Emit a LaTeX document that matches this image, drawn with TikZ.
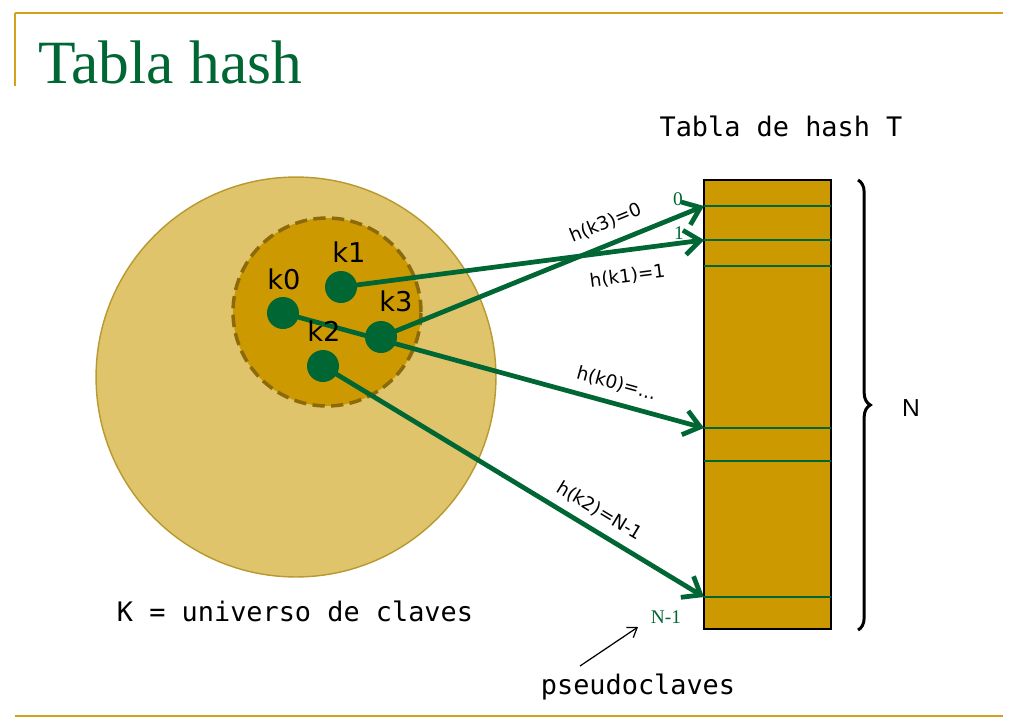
\documentclass[tikz,border=0pt]{standalone}
\usepackage{fontspec}
\setmainfont{Liberation Serif}
\newfontfamily\dvsans{DejaVu Sans}
\newfontfamily\dvmono{DejaVu Sans Mono}
\newfontfamily\lsans{Liberation Sans}
\usetikzlibrary{arrows.meta,decorations.pathreplacing}
\definecolor{gline}{HTML}{D4A21A}
\definecolor{outerfill}{HTML}{E0C46C}
\definecolor{outerdraw}{HTML}{B8982F}
\definecolor{innerfill}{HTML}{CC9900}
\definecolor{innerdraw}{HTML}{8C6A0A}
\definecolor{dgreen}{HTML}{006633}
\tikzset{
  keydot/.style={circle, fill=dgreen, inner sep=0pt, minimum size=0.64cm},
  keylab/.style={font=\dvsans\fontsize{15.5}{18}\selectfont, inner sep=0pt},
  harrow/.style={draw=dgreen, line width=2.7pt, -{Straight Barb[length=9pt,width=14pt,line width=2.7pt]}},
  hlab/.style={font=\dvsans\fontsize{10.5}{12}\selectfont, inner sep=1pt, sloped},
  slotline/.style={draw=dgreen, line width=0.9pt},
  idx/.style={font=\fontsize{11}{13}\selectfont, text=dgreen, inner sep=0pt},
  mono/.style={font=\dvmono\fontsize{15.3}{18}\selectfont, inner sep=0pt},
}
\begin{document}
\begin{tikzpicture}[x=0.02cm,y=-0.02cm]
\useasboundingbox (0,0) rectangle (1020,727);
% frame lines
\draw[gline, line width=1.7pt] (15,13) -- (1003,13);
\draw[gline, line width=1.1pt] (15,13) -- (15,86);
\draw[gline, line width=1.2pt] (15,716) -- (1003,716);
\node[anchor=base west, text=dgreen, font=\fontsize{35}{40}\selectfont, inner sep=0pt] (title) at (38,83) {Tabla hash};
% universe
\node[circle, fill=outerfill, draw=outerdraw, line width=0.8pt, minimum size=8cm, inner sep=0pt] (U) at (296,377) {};
\node[circle, fill=innerfill, draw=innerdraw, line width=2pt, dash pattern=on 7pt off 3.6pt, minimum size=3.76cm, inner sep=0pt] (S) at (327,312) {};
% table
\node[rectangle, draw=black, fill=innerfill, line width=1pt, minimum width=2.54cm, minimum height=8.98cm, inner sep=0pt] (T) at (767.5,404.5) {};
\foreach \y in {206,240,266,428,461,597} \draw[slotline] (704,\y) -- (831,\y);
\coordinate (s0) at (704,206);
\coordinate (s1) at (704,240);
\coordinate (sk) at (704,428);
\coordinate (sn) at (704,597);
% arrows (drawn before dots)
\coordinate (c0) at (283,313);
\coordinate (c1) at (341,287);
\coordinate (c2) at (323,366);
\coordinate (c3) at (381,337);
\draw[harrow] (c3) -- node[hlab, pos=0.72, above=5pt] {h(k3)=0} (s0);
\draw[harrow] (c1) -- node[hlab, pos=0.78, below=8pt] {h(k1)=1} (s1);
\draw[harrow] (c0) -- node[hlab, pos=0.78, above=4pt] {h(k0)=...} (sk);
\draw[harrow] (c2) -- node[hlab, pos=0.70, above=4pt] {h(k2)=N-1} (sn);
% dots
\node[keydot] (k0) at (c0) {};
\node[keydot] (k1) at (c1) {};
\node[keydot] (k2) at (c2) {};
\node[keydot] (k3) at (c3) {};
\node[keylab] (l1) at (349,252) {k1};
\node[keylab] (l0) at (284,279) {k0};
\node[keylab] (l3) at (396,301) {k3};
\node[keylab] (l2) at (324,331) {k2};
% indices
\node[idx] (i0) at (678,199) {0};
\node[idx] (i1) at (679,233) {1};
\node[idx] (in) at (666,617) {N-1};
% texts
\node[mono] (tt) at (781,126) {Tabla de hash T};
\node[mono] (kt) at (295,611) {K = universo de claves};
\node[mono] (pc) at (638,687) {pseudoclaves};
% brace
\draw[line width=1.7pt, decorate, decoration={brace, amplitude=7pt}] (858,180) -- (858,630);
\node[font=\lsans\fontsize{14}{16}\selectfont, inner sep=0pt] (N) at (911,408) {N};
% pseudoclaves pointer
\coordinate (pa) at (580,666);
\coordinate (pb) at (638,627);
\draw[line width=0.7pt, -{Straight Barb[length=5pt,width=7pt]}] (pa) -- (pb);
\end{tikzpicture}
\end{document}
